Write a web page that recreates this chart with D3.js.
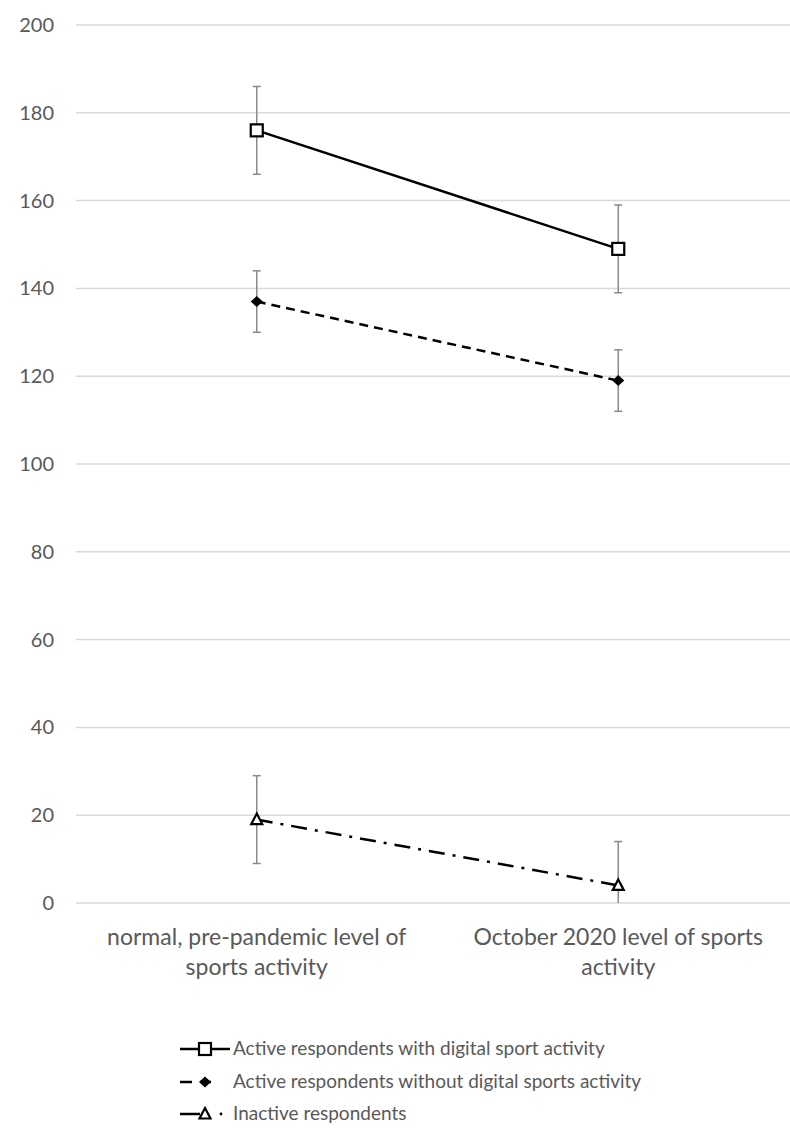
<!DOCTYPE html>
<html>
<head>
<meta charset="utf-8">
<script src="https://cdn.jsdelivr.net/npm/d3@7"></script>
<style>
  body { margin: 0; background: #fff; }
  text { font-family: Lato, "Open Sans", sans-serif; }
</style>
</head>
<body>
<svg id="chart" width="790" height="1128"></svg>
<script>
// data
var categories = ['normal, pre-pandemic level of sports activity', 'October 2020 level of sports activity'];
var categoryLines = [['normal, pre-pandemic level of', 'sports activity'], ['October 2020 level of sports', 'activity']];
var seriesNames = ['Active respondents with digital sport activity', 'Active respondents without digital sports activity', 'Inactive respondents'];
var withDigital = [176, 149];
var withoutDigital = [137, 119];
var inactive = [19, 4];
var withDigitalErr = [10, 10];
var withoutDigitalErr = [7, 7];
var inactiveErr = [10, 10];
var yTicks = [0, 20, 40, 60, 80, 100, 120, 140, 160, 180, 200];

var svg = d3.select('#chart');

var x = d3.scaleBand()
    .domain(categories)
    .range([76, 799]);

var y = d3.scaleLinear()
    .domain([0, 200])
    .range([903, 25]);

//// grid
svg.append('g')
  .selectAll('line')
  .data(yTicks)
  .join('line')
    .attr('x1', 76)
    .attr('x2', 799)
    .attr('y1', function (d) { return y(d); })
    .attr('y2', function (d) { return y(d); })
    .attr('stroke', '#d9d9d9')
    .attr('stroke-width', 1.5);

//// y axis labels
var yAxis = d3.axisLeft(y).tickValues(yTicks).tickSize(0).tickPadding(0);
svg.append('g')
    .attr('transform', 'translate(54,0)')
    .call(yAxis)
    .call(function (g) { g.select('.domain').remove(); })
    .selectAll('text')
      .attr('fill', '#595959')
      .attr('font-size', 20)
      .style('font-family', 'Lato, "Open Sans", sans-serif');

//// x labels
var cx = function (c) { return x(c) + x.bandwidth() / 2; };
categories.forEach(function (c, i) {
  svg.append('text')
      .attr('x', cx(c))
      .attr('y', 945)
      .attr('text-anchor', 'middle')
      .attr('fill', '#595959')
      .attr('font-size', 23)
    .selectAll('tspan')
    .data(categoryLines[i])
    .join('tspan')
      .attr('x', cx(c))
      .attr('dy', function (d, j) { return j === 0 ? 0 : 30; })
      .text(function (d) { return d; });
});

var series = [
  { name: seriesNames[0], values: withDigital, err: withDigitalErr, dash: null, marker: 'square' },
  { name: seriesNames[1], values: withoutDigital, err: withoutDigitalErr, dash: '9,6', marker: 'diamond' },
  { name: seriesNames[2], values: inactive, err: inactiveErr, dash: '16,8,3,8', marker: 'triangle' }
];

var line = d3.line()
    .x(function (d, i) { return cx(categories[i]); })
    .y(function (d) { return y(d); });

// error bars
var errG = svg.append('g');
series.forEach(function (s) {
  s.values.forEach(function (v, i) {
    var px = cx(categories[i]);
    var hi = y(v + s.err[i]);
    var lo = y(Math.max(0, v - s.err[i]));
    errG.append('line')
        .attr('x1', px).attr('x2', px)
        .attr('y1', hi).attr('y2', lo)
        .attr('stroke', '#8a8a8a').attr('stroke-width', 1.5);
    errG.append('line')
        .attr('x1', px - 4).attr('x2', px + 4)
        .attr('y1', hi).attr('y2', hi)
        .attr('stroke', '#8a8a8a').attr('stroke-width', 1.5);
    if (v - s.err[i] > 0) {
      errG.append('line')
          .attr('x1', px - 4).attr('x2', px + 4)
          .attr('y1', lo).attr('y2', lo)
          .attr('stroke', '#8a8a8a').attr('stroke-width', 1.5);
    }
  });
});

// lines
series.forEach(function (s) {
  svg.append('path')
      .datum(s.values)
      .attr('d', line)
      .attr('fill', 'none')
      .attr('stroke', '#000')
      .attr('stroke-width', 2.5)
      .attr('stroke-dasharray', s.dash);
});

var drawMarker = function (g, type, px, py) {
  if (type === 'square') {
    g.append('rect')
        .attr('x', px - 6).attr('y', py - 6)
        .attr('width', 12).attr('height', 12)
        .attr('fill', '#fff').attr('stroke', '#000').attr('stroke-width', 2.2);
  } else if (type === 'diamond') {
    g.append('path')
        .attr('d', 'M' + px + ',' + (py - 5.5) + 'L' + (px + 6) + ',' + py + 'L' + px + ',' + (py + 5.5) + 'L' + (px - 6) + ',' + py + 'Z')
        .attr('fill', '#000');
  } else {
    g.append('path')
        .attr('d', 'M' + px + ',' + (py - 6) + 'L' + (px + 5.5) + ',' + (py + 4.5) + 'L' + (px - 5.5) + ',' + (py + 4.5) + 'Z')
        .attr('fill', '#fff').attr('stroke', '#000').attr('stroke-width', 2.2);
  }
};

// markers
series.forEach(function (s) {
  s.values.forEach(function (v, i) {
    drawMarker(svg, s.marker, cx(categories[i]), y(v));
  });
});

//// legend
var legend = svg.append('g');
var legendY = [1049, 1082, 1114];
series.forEach(function (s, i) {
  var ly = legendY[i];
  var g = legend.append('g');
  if (s.marker === 'square') {
    g.append('line').attr('x1', 180).attr('x2', 230).attr('y1', ly).attr('y2', ly)
        .attr('stroke', '#000').attr('stroke-width', 2.5);
  } else if (s.marker === 'diamond') {
    g.append('line').attr('x1', 180).attr('x2', 192).attr('y1', ly).attr('y2', ly)
        .attr('stroke', '#000').attr('stroke-width', 2.5);
    g.append('line').attr('x1', 200).attr('x2', 211).attr('y1', ly).attr('y2', ly)
        .attr('stroke', '#000').attr('stroke-width', 2.5);
  } else {
    g.append('line').attr('x1', 180).attr('x2', 200).attr('y1', ly).attr('y2', ly)
        .attr('stroke', '#000').attr('stroke-width', 2.5);
    g.append('circle').attr('cx', 221).attr('cy', ly).attr('r', 1.4).attr('fill', '#000');
  }
  drawMarker(g, s.marker, 205, ly);
  g.append('text')
      .attr('x', 233)
      .attr('y', ly + 6)
      .attr('fill', '#595959')
      .attr('font-size', 19)
      .text(s.name);
});
</script>
</body>
</html>
